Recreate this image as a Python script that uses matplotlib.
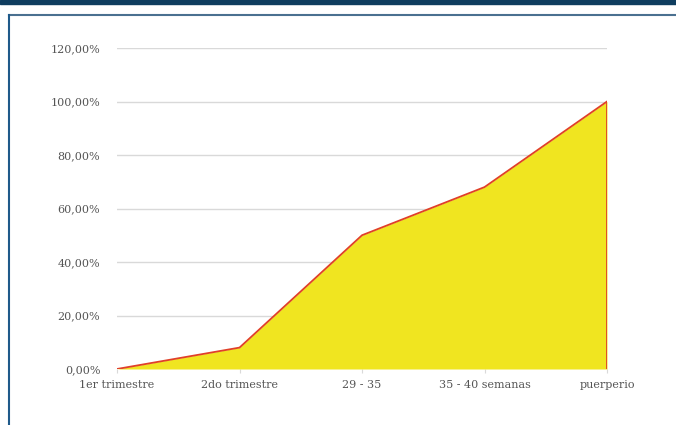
import matplotlib.pyplot as plt
from matplotlib.lines import Line2D
from matplotlib.patches import Rectangle

categories = ["1er trimestre", "2do trimestre", "29 - 35", "35 - 40 semanas", "puerperio"]
values = [0.0, 8.0, 50.0, 68.0, 100.0]
y_ticks = [0, 20, 40, 60, 80, 100, 120]
y_labels = ["0,00%", "20,00%", "40,00%", "60,00%", "80,00%", "100,00%", "120,00%"]

fig = plt.figure(figsize=(6.76, 4.25), dpi=100)

# frame decoration: dark band on top, thin border line and left edge
fig.patches.append(Rectangle((0, 1 - 4 / 425), 1, 4 / 425, transform=fig.transFigure,
                             color="#0f3d5f", zorder=0))
fig.lines.append(Line2D([9 / 676, 1], [1 - 14.5 / 425] * 2, transform=fig.transFigure,
                        color="#4a7090", lw=1.5))
fig.lines.append(Line2D([9 / 676] * 2, [0, 1 - 14.5 / 425], transform=fig.transFigure,
                        color="#1f5a8a", lw=1.5))

ax = fig.add_axes([117 / 676, 1 - 369 / 425, (607 - 117) / 676, (369 - 48) / 425])
x = list(range(len(categories)))
ax.fill_between(x, values, 0, color="#f0e520", lw=0, zorder=2)
ax.plot(x, values, color="#e04028", lw=1.3, zorder=3)
ax.plot([x[-1], x[-1]], [0, values[-1]], color="#e04028", lw=1.3, zorder=3)

ax.set_xlim(0, len(categories) - 1)
ax.set_ylim(0, 120)
ax.set_yticks(y_ticks)
ax.set_yticklabels(y_labels)
ax.set_xticks(x)
ax.set_xticklabels(categories)
ax.grid(axis="y", color="#d9d9d9", lw=1, zorder=1)
for s in ax.spines.values():
    s.set_visible(False)
ax.tick_params(axis="y", length=0, pad=12, labelsize=8, labelcolor="#555555")
ax.tick_params(axis="x", length=3, color="#d9d9d9", pad=5, labelsize=8, labelcolor="#555555")
for t in ax.get_xticklabels() + ax.get_yticklabels():
    t.set_family("DejaVu Serif")

fig.savefig("out.png", dpi=100)
